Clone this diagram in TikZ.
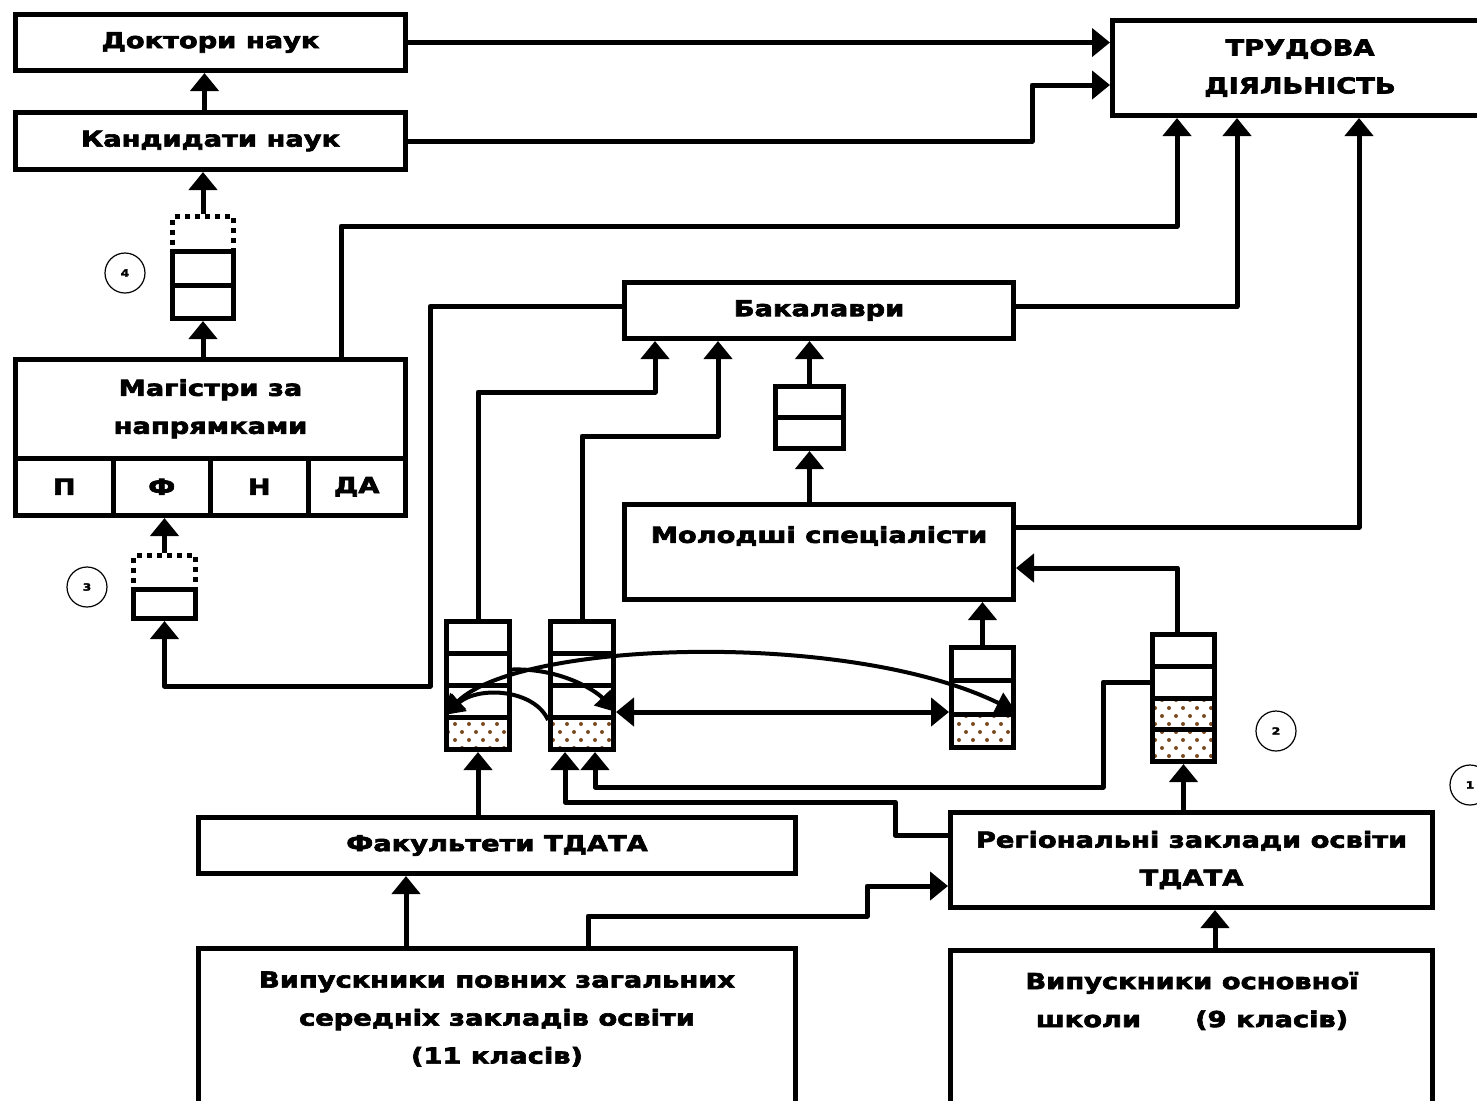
\documentclass[tikz,border=0pt]{standalone}
\usepackage{fontspec}
\setmainfont{DejaVu Sans}[FakeStretch=1.24, BoldFeatures={FakeBold=3}]
\usetikzlibrary{arrows.meta,calc,patterns}
\definecolor{dotBrown}{HTML}{7A4A20}
\newcommand{\boxfont}{\fontsize{11}{19}\selectfont\bfseries}
\pgfdeclarepatternformonly{sparsedots}{\pgfqpoint{-1.5pt}{-1.5pt}}{\pgfqpoint{8.5pt}{9.5pt}}{\pgfqpoint{7pt}{8pt}}{%
  \pgfpathcircle{\pgfqpoint{0pt}{0pt}}{1pt}%
  \pgfpathcircle{\pgfqpoint{3.5pt}{4pt}}{1pt}%
  \pgfusepath{fill}}
\tikzset{
  box/.style     = {draw, line width=2.5pt, fill=white, align=center,
                    inner sep=0pt, font=\boxfont},
  txt/.style     = {align=center, inner sep=0pt, font=\boxfont},
  cell/.style    = {draw, line width=2.5pt, fill=white, inner sep=0pt,
                    minimum width=31.5pt, minimum height=16pt},
  dotcell/.style = {cell, pattern=sparsedots, pattern color=dotBrown},
  ghost/.style   = {cell, dash pattern=on 2.5pt off 2.5pt},
  arr/.style     = {line width=2.5pt, line join=round,
                    -{Triangle[width=14pt,length=9pt]}},
  darr/.style    = {line width=2.5pt,
                    {Triangle[width=14pt,length=9pt]}-{Triangle[width=14pt,length=9pt]}},
  curv/.style    = {line width=2pt, -{Triangle[width=11pt,length=10pt]}},
  dcurv/.style   = {line width=2pt,
                    {Triangle[width=11pt,length=10pt]}-{Triangle[width=11pt,length=10pt]}},
  num/.style     = {circle, draw, line width=0.6pt, minimum size=20pt,
                    inner sep=0pt, font=\tiny\bfseries},
}
\begin{document}
\begin{tikzpicture}[x=0.5pt,y=-0.5pt]
  \useasboundingbox (0,0) rectangle (1477,1100);
  \clip (0,0) rectangle (1477,1100);
  % boxes
  \node[box, minimum width=195pt, minimum height=28pt] (doc) at (210.5,42.5) {Доктори наук};
  \node[box, minimum width=195pt, minimum height=28.5pt] (kand) at (210.5,141) {Кандидати наук};
  \node[box, minimum width=187.5pt, minimum height=47.5pt] (trud) at (1300,68) {ТРУДОВА\\ДІЯЛЬНІСТЬ};
  \node[box, minimum width=195pt, minimum height=49.25pt] (mag) at (210.5,408.75) {Магістри за\\напрямками};
  \foreach \c/\x/\t in {P/64.25/П, F/161.75/Ф, N/259.25/Н, DA/356.75/ДА}
    \node[box, minimum width=48.75pt, minimum height=28.75pt] (mag\c) at (\x,486.75) {\t};
  \node[box, minimum width=194.5pt, minimum height=28pt] (bak) at (819,310.5) {Бакалаври};
  \node[box, minimum width=194.5pt, minimum height=47.5pt] (mol) at (819,552) {};
  \node[txt] (molT) at (819,536) {Молодші спеціалісти};
  \node[box, minimum width=298.5pt, minimum height=28pt] (fac) at (497,845.5) {Факультети ТДАТА};
  \node[box, minimum width=241pt, minimum height=47.5pt] (reg) at (1191.5,860) {Регіональні заклади освіти\\ТДАТА};
  \node[box, minimum width=298.5pt, minimum height=85.75pt] (vyp11) at (497,1034.25) {};
  \node[txt] (vyp11T) at (497,1019) {Випускники повних загальних\\середніх закладів освіти\\(11 класів)};
  \node[box, minimum width=241pt, minimum height=84.75pt] (vyp9) at (1191.5,1035.25) {};
  \node[txt] (vyp9T) at (1192,1001) {Випускники основної\\школи\hspace{27pt}(9 класів)};
  % queues
  \node[ghost, minimum width=30.5pt, minimum height=17.5pt] (q4a) at (203,234) {};
  \foreach \i/\y in {b/268.25, c/301.75}
    \node[cell, minimum width=30.5pt, minimum height=16.75pt] (q4\i) at (203,\y) {};
  \node[ghost, minimum width=31pt, minimum height=17pt] (q3a) at (164.5,572.5) {};
  \node[cell, minimum width=31pt, minimum height=14.5pt] (q3b) at (164.5,604) {};
  \foreach \n/\x in {s1/478, s2/582} {
    \foreach \i/\y in {1/637.5, 2/669.5, 3/701.5}
      \node[cell] (\n\i) at (\x,\y) {};
    \node[dotcell] (\n4) at (\x,733.5) {};
  }
  \foreach \i/\y in {1/664.17, 2/697.5}
    \node[cell, minimum width=31pt, minimum height=16.67pt] (s3\i) at (982.5,\y) {};
  \node[dotcell, minimum width=31pt, minimum height=16.67pt] (s33) at (982.5,730.83) {};
  \foreach \i/\y in {1/650.375, 2/682.125}
    \node[cell, minimum width=31pt, minimum height=15.875pt] (s4\i) at (1183.5,\y) {};
  \foreach \i/\y in {3/713.875, 4/745.625}
    \node[dotcell, minimum width=31pt, minimum height=15.875pt] (s4\i) at (1183.5,\y) {};
  \foreach \i/\y in {a/402, b/433}
    \node[cell, minimum width=34pt, minimum height=15.5pt] (s5\i) at (809.5,\y) {};
  % numbers
  \node[num] (n4) at (125,273) {4};
  \node[num] (n3) at (87,587) {3};
  \node[num] (n2) at (1276,731) {2};
  \node[num] (n1) at (1470,785) {1};
  % into labour
  \draw[arr] (doc.east) -- (doc.east -| trud.west);
  \draw[arr] (kand.east) -- ++(624,0) |- ($(trud.west)+(0,17)$);
  \draw[arr] ($(mag.north)+(130.5,0)$) -- ++(0,-131) -| ($(trud.south)+(-123,0)$);
  \draw[arr] ($(bak.east)+(0,-4)$) -| ($(trud.south)+(-63,0)$);
  \draw[arr] ($(mol.east)+(0,-25)$) -| ($(trud.south)+(59,0)$);
  % science ladder
  \draw[arr] ([xshift=-3pt]kand.north) -- ([xshift=-3pt]doc.south);
  \draw[arr] (mag.north -| q4c.south) -- (q4c.south);
  \draw[arr] (q4a.north) -- (q4a.north |- kand.south);
  \draw[arr] (q3a.north) -- (q3a.north |- magF.south);
  \draw[arr] ($(bak.west)+(0,-4)$) -- ++(-192,0) |- ($(q3b.south)+(0,65)$) -- (q3b.south);
  % to bachelors
  \draw[arr] (s11.north) -- ++(0,-227) -| ($(bak.south)+(-164,0)$);
  \draw[arr] (s21.north) -- ++(0,-183) -| ($(bak.south)+(-101,0)$);
  \draw[arr] (mol.north -| s5b.south) -- (s5b.south);
  \draw[arr] (s5a.north) -- (s5a.north |- bak.south);
  % to junior specialists
  \draw[arr] (s31.north) -- (s31.north |- mol.south);
  \draw[arr] ($(s41.north)+(-6,0)$) |- ($(mol.east)+(0,16)$);
  % entrants
  \draw[arr] (s42.west) -- ++(-47,0) -- ++(0,105) -| ($(s24.south)+(13,0)$);
  \draw[arr] ($(reg.west)+(0,-25)$) -- ++(-53,0) -- ++(0,-33) -| ($(s24.south)+(-17,0)$);
  \draw[arr] (reg.north -| s44.south) -- (s44.south);
  \draw[arr] (fac.north -| s14.south) -- (s14.south);
  \draw[arr] ($(vyp11.north)+(-91,0)$) -- ($(fac.south)+(-91,0)$);
  \draw[arr] ($(vyp11.north)+(91,0)$) -- ++(0,-30) -- ++(279,0) |- ($(reg.west)+(0,26)$);
  \draw[arr] ($(vyp9.north)+(23.5,0)$) -- ($(reg.south)+(23.5,0)$);
  % transfers between queues
  \coordinate (lvl) at (0,712);
  \draw[darr] (s23.east |- lvl) -- (s32.west |- lvl);
  \draw[dcurv] (s14.north west) .. controls (520,640) and (850,630) .. (s33.north east);
  \draw[curv] (s12.east) .. controls (560,668) and (595,690) .. (s23.east |- lvl);
  \draw[curv] (s23.south west) .. controls (535,690) and (480,685) .. (s14.north west);
\end{tikzpicture}
\end{document}
